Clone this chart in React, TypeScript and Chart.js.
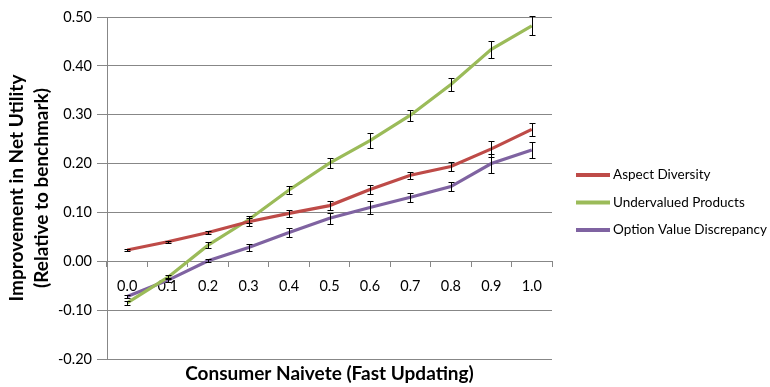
import React, { useEffect, useRef } from "react";
import { Chart, registerables } from "chart.js";

Chart.register(...registerables);

const categories = ["0.0", "0.1", "0.2", "0.3", "0.4", "0.5", "0.6", "0.7", "0.8", "0.9", "1.0"];

const aspectDiversity = [0.023, 0.040, 0.059, 0.081, 0.098, 0.114, 0.147, 0.176, 0.194, 0.230, 0.270];
const aspectDiversityErr = [0.002, 0.002, 0.003, 0.008, 0.007, 0.009, 0.009, 0.0075, 0.009, 0.017, 0.0135];

const undervaluedProducts = [-0.085, -0.033, 0.033, 0.085, 0.146, 0.201, 0.247, 0.299, 0.362, 0.434, 0.482];
const undervaluedProductsErr = [0.004, 0.004, 0.006, 0.007, 0.008, 0.011, 0.016, 0.011, 0.0125, 0.017, 0.0195];

const optionValue = [-0.072, -0.039, 0.001, 0.028, 0.059, 0.088, 0.110, 0.131, 0.153, 0.200, 0.228];
const optionValueErr = [0.004, 0.004, 0.003, 0.0075, 0.0085, 0.011, 0.013, 0.009, 0.010, 0.019, 0.016];

const seriesNames = ["Aspect Diversity", "Undervalued Products", "Option Value Discrepancy"];
const seriesColors = ["#BE4B48", "#9BBB59", "#7F63A1"];

const FONT = "Lato, 'Open Sans', sans-serif";
const GRID = "#878787";

const errorBarPlugin = {
  id: "errorBars",
  afterDatasetsDraw(chart: any) {
    const ctx = chart.ctx;
    const yScale = chart.scales.y;
    ctx.save();
    ctx.strokeStyle = "#000";
    ctx.lineWidth = 1;
    chart.data.datasets.forEach((ds: any, i: number) => {
      const meta = chart.getDatasetMeta(i);
      meta.data.forEach((pt: any, j: number) => {
        const v = ds.data[j];
        const e = ds.errors[j];
        const top = Math.round(yScale.getPixelForValue(v + e)) + 0.5;
        const bot = Math.round(yScale.getPixelForValue(v - e)) + 0.5;
        const x = Math.round(pt.x) + 0.5;
        ctx.beginPath();
        ctx.moveTo(x, top);
        ctx.lineTo(x, bot);
        ctx.moveTo(x - 3, top);
        ctx.lineTo(x + 3, top);
        ctx.moveTo(x - 3, bot);
        ctx.lineTo(x + 3, bot);
        ctx.stroke();
      });
    });
    ctx.restore();
  },
};

const legendPlugin = {
  id: "sideLegend",
  afterDraw(chart: any) {
    const ctx = chart.ctx;
    const area = chart.chartArea;
    const cy = (area.top + area.bottom) / 2 + 14.5;
    const x0 = area.right + 24;
    ctx.save();
    ctx.font = `13.5px ${FONT}`;
    ctx.textBaseline = "middle";
    ctx.textAlign = "left";
    chart.data.datasets.forEach((ds: any, i: number) => {
      const y = cy + (i - 1) * 27.5;
      ctx.fillStyle = ds.borderColor;
      ctx.fillRect(x0, y - 2, 34, 4);
      ctx.fillStyle = "#000";
      ctx.fillText(ds.label, x0 + 37, y);
    });
    ctx.restore();
  },
};

export default function App() {
  const ref = useRef<HTMLCanvasElement>(null);
  useEffect(() => {
    if (!ref.current) return;
    const values = [aspectDiversity, undervaluedProducts, optionValue];
    const errs = [aspectDiversityErr, undervaluedProductsErr, optionValueErr];
    const chart = new Chart(ref.current, {
      type: "line",
      data: {
        labels: categories,
        datasets: values.map((d, i) => ({
          label: seriesNames[i],
          data: d,
          errors: errs[i],
          borderColor: seriesColors[i],
          backgroundColor: seriesColors[i],
          borderWidth: 3.2,
          pointRadius: 0,
          tension: 0,
          fill: false,
        })) as any,
      },
      options: {
        responsive: false,
        animation: false,
        layout: { padding: { top: 17, bottom: 0, left: 5, right: 218 } },
        plugins: {
          tooltip: { enabled: false },
          legend: { display: false },
        },
        scales: {
          x: {
            type: "category",
            position: { y: 0 } as any,
            offset: true,
            grid: { drawOnChartArea: false, drawTicks: true, tickLength: 5, offset: true, color: GRID },
            border: { color: GRID, width: 1 },
            ticks: { color: "#000", padding: 11, font: { family: FONT, size: 14.5 }, maxRotation: 0 },
          },
          x2: {
            type: "category",
            position: "bottom",
            grid: { display: false, drawTicks: false },
            border: { display: false },
            ticks: { display: false },
            afterFit: (s: any) => {
              s.height = 28;
            },
            title: {
              display: true,
              text: "Consumer Naivete (Fast Updating)",
              color: "#000",
              font: { family: FONT, size: 19, weight: "bold", lineHeight: 1.2 },
              padding: { top: 2, bottom: 2 },
            },
          },
          y: {
            min: -0.2,
            max: 0.5,
            afterFit: (s: any) => {
              s.width = 102;
            },
            ticks: {
              stepSize: 0.1,
              color: "#000",
              padding: 5,
              font: { family: FONT, size: 14.5 },
              callback: (v: any) => {
                const n = Math.round(Number(v) * 100) / 100;
                return (n === 0 ? 0 : n).toFixed(2);
              },
            },
            grid: { color: GRID, tickLength: 10, lineWidth: 1 },
            border: { color: GRID, width: 1 },
            title: {
              display: true,
              text: ["Improvement in Net Utility", "(Relative to benchmark)"],
              color: "#000",
              font: { family: FONT, size: 19, weight: "bold", lineHeight: 1.3 },
              padding: { top: 0, bottom: 1 },
            },
          },
        },
      },
      plugins: [errorBarPlugin, legendPlugin],
    });
    return () => chart.destroy();
  }, []);
  return (
    <div style={{ position: "absolute", left: 0, top: 0, width: 770, height: 387 }}>
      <canvas ref={ref} width={770} height={387} />
    </div>
  );
}
